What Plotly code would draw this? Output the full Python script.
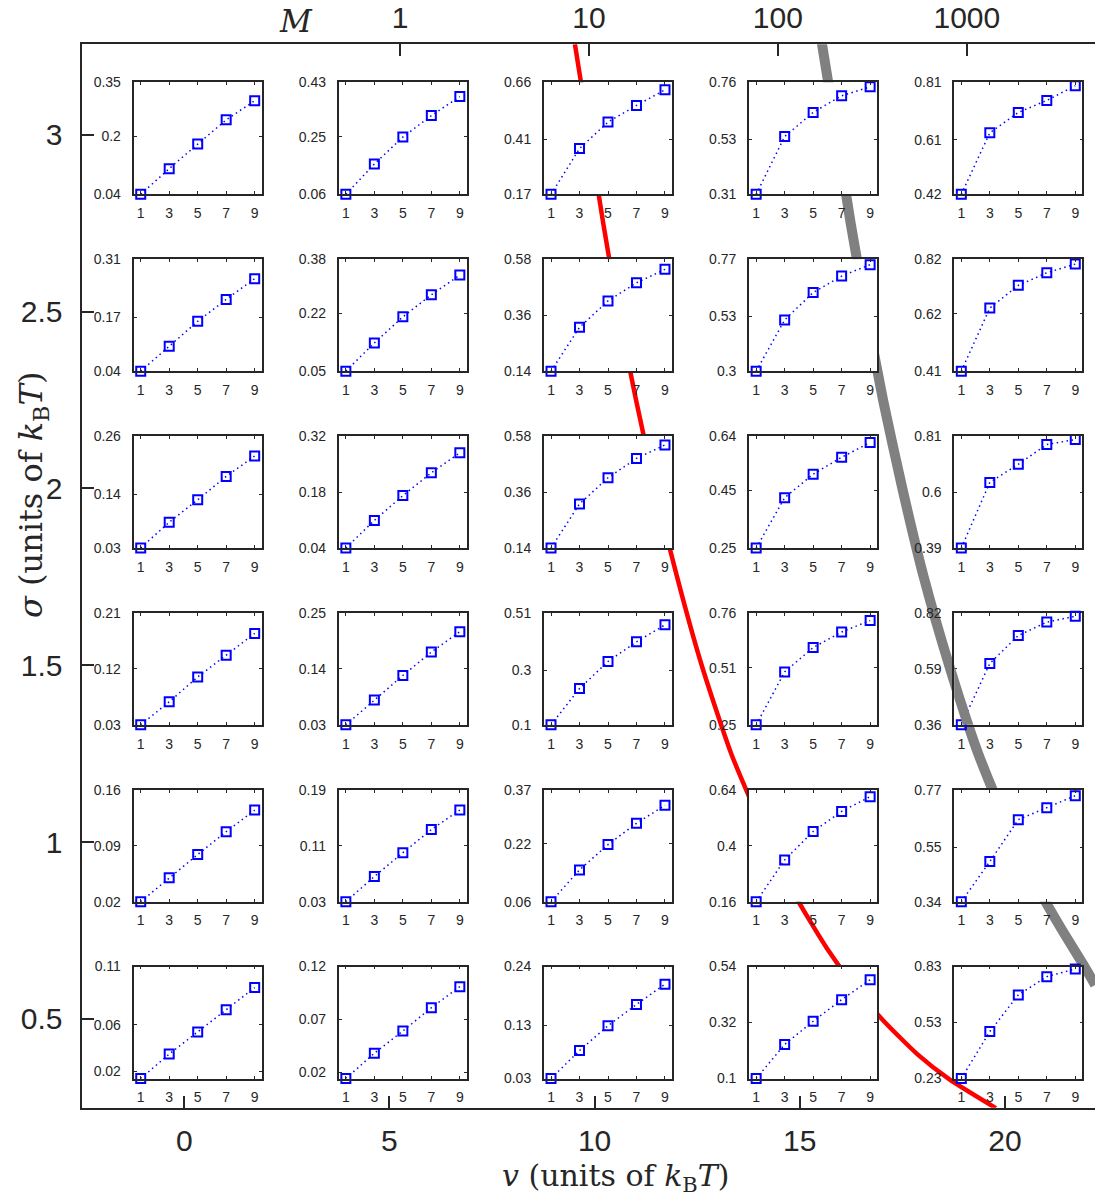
import plotly.graph_objects as go

# ---------------------------------------------------------------- data
v_centers = [0, 5, 10, 15, 20]             # column positions (v, units of kBT)
sigma_rows = [3, 2.5, 2, 1.5, 1, 0.5]      # row positions (sigma, units of kBT)
M_ticks = [1, 10, 100, 1000]
n_values = [1, 3, 5, 7, 9]                 # inset abscissa

# inset tick labels (bottom, middle, top) per row, columns left -> right
tick_labels_s30 = [["0.04", "0.2", "0.35"], ["0.06", "0.25", "0.43"], ["0.17", "0.41", "0.66"],
                   ["0.31", "0.53", "0.76"], ["0.42", "0.61", "0.81"]]
tick_labels_s25 = [["0.04", "0.17", "0.31"], ["0.05", "0.22", "0.38"], ["0.14", "0.36", "0.58"],
                   ["0.3", "0.53", "0.77"], ["0.41", "0.62", "0.82"]]
tick_labels_s20 = [["0.03", "0.14", "0.26"], ["0.04", "0.18", "0.32"], ["0.14", "0.36", "0.58"],
                   ["0.25", "0.45", "0.64"], ["0.39", "0.6", "0.81"]]
tick_labels_s15 = [["0.03", "0.12", "0.21"], ["0.03", "0.14", "0.25"], ["0.1", "0.3", "0.51"],
                   ["0.25", "0.51", "0.76"], ["0.36", "0.59", "0.82"]]
tick_labels_s10 = [["0.02", "0.09", "0.16"], ["0.03", "0.11", "0.19"], ["0.06", "0.22", "0.37"],
                   ["0.16", "0.4", "0.64"], ["0.34", "0.55", "0.77"]]
tick_labels_s05 = [["0.02", "0.06", "0.11"], ["0.02", "0.07", "0.12"], ["0.03", "0.13", "0.24"],
                   ["0.1", "0.32", "0.54"], ["0.23", "0.53", "0.83"]]

# inset series (value at n = 1, 3, 5, 7, 9), per row, columns left -> right
values_s30 = [[0.04, 0.111, 0.179, 0.246, 0.299], [0.06, 0.160, 0.249, 0.320, 0.383],
              [0.17, 0.370, 0.486, 0.559, 0.627], [0.31, 0.542, 0.639, 0.706, 0.742],
              [0.42, 0.634, 0.705, 0.747, 0.798]]
values_s25 = [[0.04, 0.100, 0.160, 0.213, 0.263], [0.05, 0.133, 0.210, 0.275, 0.333],
              [0.14, 0.312, 0.416, 0.487, 0.540], [0.30, 0.515, 0.630, 0.699, 0.747],
              [0.41, 0.641, 0.724, 0.770, 0.802]]
values_s20 = [[0.03, 0.083, 0.129, 0.177, 0.219], [0.04, 0.109, 0.171, 0.228, 0.278],
              [0.14, 0.313, 0.416, 0.492, 0.545], [0.25, 0.425, 0.507, 0.566, 0.617],
              [0.39, 0.636, 0.704, 0.778, 0.797]]
values_s15 = [[0.03, 0.067, 0.107, 0.142, 0.177], [0.03, 0.079, 0.127, 0.173, 0.213],
              [0.10, 0.233, 0.332, 0.404, 0.466], [0.25, 0.491, 0.602, 0.673, 0.725],
              [0.36, 0.612, 0.727, 0.782, 0.806]]
values_s10 = [[0.02, 0.050, 0.079, 0.1075, 0.1345], [0.03, 0.066, 0.100, 0.133, 0.161],
              [0.06, 0.148, 0.218, 0.277, 0.327], [0.16, 0.339, 0.461, 0.547, 0.610],
              [0.34, 0.494, 0.655, 0.701, 0.747]]
values_s05 = [[0.014, 0.035, 0.054, 0.073, 0.092], [0.014, 0.038, 0.059, 0.081, 0.101],
              [0.03, 0.0825, 0.129, 0.169, 0.207], [0.10, 0.234, 0.325, 0.410, 0.488],
              [0.23, 0.482, 0.678, 0.776, 0.817]]

# boundary curves in the (v, sigma) plane
red_sigma = [3.256, 3.0, 2.75, 2.5, 2.25, 2.0, 1.75, 1.5, 1.25, 1.0,
             0.85, 0.7, 0.6, 0.5, 0.4, 0.33, 0.248]
red_v = [9.52, 9.87, 10.21, 10.58, 11.01, 11.48, 12.01, 12.61, 13.33, 14.25,
         14.88, 15.66, 16.28, 17.00, 17.87, 18.64, 19.78]
gray_sigma = [3.265, 3.0, 2.75, 2.5, 2.25, 2.0, 1.75, 1.5, 1.25, 1.0,
              0.85, 0.75, 0.65, 0.596]
gray_v = [15.53, 15.90, 16.24, 16.62, 17.03, 17.50, 18.02, 18.64, 19.35, 20.24,
          20.90, 21.40, 21.93, 22.20]

tick_labels = [tick_labels_s30, tick_labels_s25, tick_labels_s20,
               tick_labels_s15, tick_labels_s10, tick_labels_s05]
values = [values_s30, values_s25, values_s20, values_s15, values_s10, values_s05]

# the inset (row, column) that the gray band is drawn across rather than behind
GRAY_OVER_INSET = (3, 4)

# ---------------------------------------------------------------- geometry (px)
W, H = 1095, 1197
X0, PXU = 184.3, 41.03          # pixel of v = 0, pixels per unit v
Y3, PYU = 134.7, 353.7          # pixel of sigma = 3, pixels per unit sigma
PLOT_L, PLOT_T, PLOT_B = 82.3, 44.3, 1107.7
INSET_DX, INSET_W = -50.7, 128.2
INSET_DY, INSET_H = -52.4, 112.0
INSET_XR = (0.5, 9.5)
V0_M = (400.0 - X0) / PXU       # v at which M = 1
V_PER_DECADE = 4.605

AX = "#262626"
SANS = "Liberation Sans, Arial, sans-serif"
SERIF = "DejaVu Serif, Liberation Serif, serif"
RED_LINE = dict(color="#ff0000", width=4.5, shape="spline", smoothing=0.6)
GRAY_LINE = dict(color="#808080", width=10, shape="spline", smoothing=0.6)

x_lo = (PLOT_L - X0) / PXU
x_hi = (W - X0) / PXU
y_lo = 3 - (PLOT_B - Y3) / PYU
y_hi = 3 + (Y3 - PLOT_T) / PYU

fig = go.Figure()

fig.add_trace(go.Scatter(x=red_v, y=red_sigma, mode="lines", line=RED_LINE,
                         hoverinfo="skip", xaxis="x", yaxis="y", showlegend=False))
fig.add_trace(go.Scatter(x=gray_v, y=gray_sigma, mode="lines", line=GRAY_LINE,
                         hoverinfo="skip", xaxis="x", yaxis="y", showlegend=False))
# carrier for the top M axis
fig.add_trace(go.Scatter(x=M_ticks, y=[None] * len(M_ticks), mode="markers",
                         hoverinfo="skip", xaxis="x2", yaxis="y", showlegend=False))

main_axis = dict(ticks="inside", ticklen=12, tickwidth=1.5, tickcolor=AX,
                 showline=True, linewidth=1.5, linecolor=AX, automargin=False,
                 showgrid=False, zeroline=False,
                 tickfont=dict(family=SANS, size=30, color=AX))

layout = dict(
    width=W, height=H,
    margin=dict(l=0, r=0, t=0, b=0, pad=0),
    paper_bgcolor="white", plot_bgcolor="white",
    showlegend=False,
    xaxis=dict(main_axis, domain=[PLOT_L / W, 1.0], range=[x_lo, x_hi], anchor="y",
               tickvals=v_centers, ticktext=[str(v) for v in v_centers],
               ticklabelstandoff=6),
    yaxis=dict(main_axis, domain=[1 - PLOT_B / H, 1 - PLOT_T / H], range=[y_lo, y_hi],
               anchor="x", tickvals=sigma_rows, ticktext=[("%g" % s) for s in sigma_rows],
               ticklabelstandoff=12),
    xaxis2=dict(main_axis, overlaying="x", side="top", type="log", anchor="y",
                range=[(x_lo - V0_M) / V_PER_DECADE, (x_hi - V0_M) / V_PER_DECADE],
                tickvals=M_ticks, ticktext=[str(m) for m in M_ticks],
                ticklabelstandoff=3),
)

inset_axis = dict(ticks="inside", ticklen=3, tickwidth=1, tickcolor=AX,
                  showline=True, linewidth=1.8, linecolor=AX, mirror="allticks",
                  showgrid=False, zeroline=False, automargin=False,
                  tickfont=dict(family=SANS, size=14, color=AX))

k = 3
for i, sigma in enumerate(sigma_rows):
    for j, v in enumerate(v_centers):
        left = X0 + v * PXU + INSET_DX
        top = Y3 - (sigma - 3) * PYU + INSET_DY
        labels = tick_labels[i][j]
        ys = values[i][j]
        tv = [float(t) for t in labels]
        y_rng = [min(ys), tv[2]]
        fig.add_trace(go.Scatter(
            x=n_values, y=ys, mode="lines+markers",
            line=dict(color="#0000ff", width=1.5, dash="1.5px,3.5px"),
            marker=dict(symbol="square-open", size=9, color="#0000ff",
                        line=dict(width=2, color="#0000ff")),
            cliponaxis=False, hoverinfo="skip", showlegend=False,
            xaxis="x%d" % k, yaxis="y%d" % k))
        over = (i, j) == GRAY_OVER_INSET
        if over:
            # the gray band, mapped into this inset's own axes, passes on top of it
            gx, gy = [], []
            for gv, gs in zip(gray_v, gray_sigma):
                px = X0 + gv * PXU
                py = Y3 - (gs - 3) * PYU
                gx.append(INSET_XR[0] + (px - left) / INSET_W * (INSET_XR[1] - INSET_XR[0]))
                gy.append(y_rng[0] + (top + INSET_H - py) / INSET_H * (y_rng[1] - y_rng[0]))
            fig.add_trace(go.Scatter(x=gx, y=gy, mode="lines", line=GRAY_LINE,
                                     hoverinfo="skip", showlegend=False,
                                     xaxis="x%d" % k, yaxis="y%d" % k))
        layout["xaxis%d" % k] = dict(
            inset_axis, domain=[left / W, (left + INSET_W) / W], range=list(INSET_XR),
            anchor="y%d" % k, tickvals=n_values, ticktext=[str(n) for n in n_values],
            ticklabelstandoff=5, layer="below traces" if over else "above traces")
        layout["yaxis%d" % k] = dict(
            inset_axis, domain=[1 - (top + INSET_H) / H, 1 - top / H],
            range=y_rng, anchor="x%d" % k,
            tickvals=tv, ticktext=labels, ticklabelstandoff=8,
            layer="below traces" if over else "above traces")
        k += 1

layout["annotations"] = [
    dict(text="<i>M</i>", x=296 / W, y=1 - 21 / H, xref="paper", yref="paper",
         showarrow=False, xanchor="center", yanchor="middle",
         font=dict(family=SERIF, size=31, color=AX)),
    dict(text="<i>v</i> (units of <i>k</i><sub>B</sub><i>T</i>)", x=616 / W, y=1 - 1177 / H,
         xref="paper", yref="paper", showarrow=False, xanchor="center", yanchor="middle",
         font=dict(family=SERIF, size=30, color=AX)),
    dict(text="<i>σ</i> (units of <i>k</i><sub>B</sub><i>T</i>)", x=33 / W, y=1 - 495 / H,
         xref="paper", yref="paper", showarrow=False, xanchor="center", yanchor="middle",
         textangle=-90, font=dict(family=SERIF, size=32, color=AX)),
]

fig.update_layout(**layout)
fig.write_html("out.html")
